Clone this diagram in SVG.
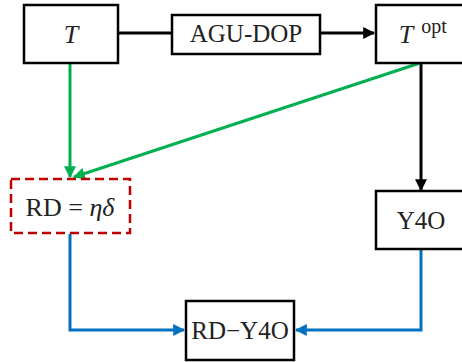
<svg xmlns="http://www.w3.org/2000/svg" width="462" height="362" viewBox="0 0 462 362">
<defs>
<marker id="ak" viewBox="0 0 10 10" refX="9" refY="5" markerWidth="4" markerHeight="4" orient="auto" markerUnits="strokeWidth"><path d="M0,0 L10,5 L0,10 z" fill="#000"/></marker>
<marker id="ag" viewBox="0 0 10 10" refX="9" refY="5" markerWidth="4" markerHeight="4" orient="auto" markerUnits="strokeWidth"><path d="M0,0 L10,5 L0,10 z" fill="#00b050"/></marker>
<marker id="ab" viewBox="0 0 10 10" refX="9" refY="5" markerWidth="4" markerHeight="4" orient="auto" markerUnits="strokeWidth"><path d="M0,0 L10,5 L0,10 z" fill="#0070c0"/></marker>
</defs>
<style>
.box{fill:#fff;stroke:#000;stroke-width:2.5}
.dash{fill:#fff;stroke:#c00000;stroke-width:2.5;stroke-dasharray:9,5}
text{font-family:"Liberation Serif","DejaVu Serif",serif;font-size:24px;fill:#222;text-anchor:middle}
.it{font-style:italic}
.k{fill:none;stroke:#000;stroke-width:3}
.g{fill:none;stroke:#00b050;stroke-width:3}
.b{fill:none;stroke:#0070c0;stroke-width:3}
</style>
<g id="connectors">
<path class="k" d="M118 33 H172"/>
<path class="k" d="M320 33 H374" marker-end="url(#ak)"/>
<path class="k" d="M421 63 V190" marker-end="url(#ak)"/>
<path class="g" d="M70 63 V177" marker-end="url(#ag)"/>
<path class="g" d="M420 63 L74 177" marker-end="url(#ag)"/>
<path class="b" d="M70 234 V330 H184" marker-end="url(#ab)"/>
<path class="b" d="M421 249 V330 H296" marker-end="url(#ab)"/>
</g>
<g id="T">
<rect class="box" x="24" y="5" width="94" height="58"/>
<text class="it" x="71" y="43" style="font-size:26px">T</text>
</g>
<g id="AGU-DOP">
<rect class="box" x="172" y="15" width="148" height="39"/>
<text x="246" y="42" style="font-size:25px">AGU-DOP</text>
</g>
<g id="Topt">
<rect class="box" x="376" y="5" width="92" height="58"/>
<text x="406" y="43" style="font-size:26px"><tspan class="it">T</tspan></text>
<text x="434" y="33" style="font-size:20px">opt</text>
</g>
<g id="Y4O">
<rect class="box" x="376" y="191" width="92" height="58"/>
<text x="421" y="229" style="font-size:25px">Y4O</text>
</g>
<g id="RD">
<rect class="dash" x="11" y="179" width="119" height="54"/>
<text x="70" y="216" style="font-size:26px">RD = <tspan class="it">ηδ</tspan></text>
</g>
<g id="RD-Y40">
<rect class="box" x="186" y="301" width="108" height="59"/>
<text x="240" y="339" style="font-size:25px">RD−Y4O</text>
</g>
</svg>
